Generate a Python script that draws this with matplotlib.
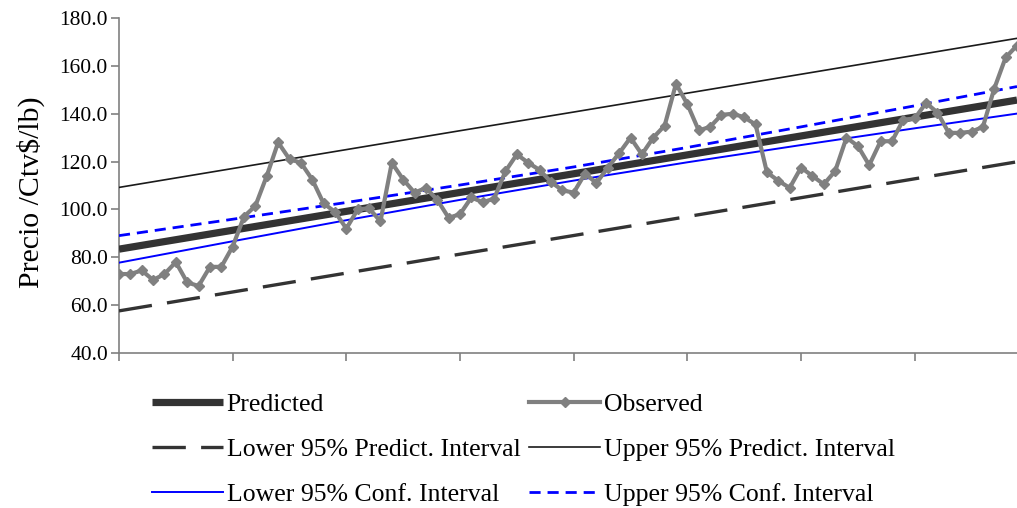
import matplotlib
matplotlib.use("Agg")
import matplotlib.pyplot as plt
import numpy as np

plt.rcParams['font.family'] = ['Liberation Serif', 'DejaVu Serif']
plt.rcParams['lines.scale_dashes'] = False

# Observed monthly price (Ctv$/lb)
observed = [
    73.0, 73.0, 74.5, 70.5, 73.0, 78.0, 69.5, 68.0, 76.0, 76.0,
    84.5, 97.0, 101.5, 114.0, 128.0, 121.0, 119.5, 112.5, 102.5, 99.0,
    92.0, 100.0, 100.5, 95.0, 119.5, 112.5, 107.0, 109.0, 104.0, 96.5,
    98.0, 105.0, 103.0, 104.5, 116.0, 123.0, 119.5, 116.5, 111.5, 108.0,
    107.0, 115.0, 111.0, 117.5, 123.5, 130.0, 123.0, 130.0, 135.0, 152.5,
    144.0, 133.0, 134.5, 139.5, 140.0, 138.5, 135.5, 115.5, 112.0, 109.0,
    117.5, 114.0, 110.5, 116.0, 130.0, 126.5, 118.5, 128.5, 128.5, 137.5,
    138.0, 144.5, 140.5, 132.0, 132.0, 132.5, 134.5, 150.5, 163.5, 168.5,
]

# Fitted trend and 95% bands, read at every tenth period and at the last one
band_periods = [0, 10, 20, 30, 40, 50, 60, 70, 79]
predicted = [83.4, 91.3, 99.2, 107.1, 114.9, 122.8, 130.7, 138.6, 145.7]
lower_pi = [57.6, 65.5, 73.4, 81.3, 89.1, 97.0, 104.9, 112.8, 119.9]
upper_pi = [109.2, 117.1, 125.0, 132.9, 140.7, 148.6, 156.5, 164.4, 171.5]
lower_ci = [77.75, 86.7, 95.5, 104.0, 112.05, 119.7, 126.9, 133.9, 140.05]
upper_ci = [89.05, 95.9, 102.9, 110.2, 117.75, 125.9, 134.5, 143.3, 151.35]

y_ticks = [40, 60, 80, 100, 120, 140, 160, 180]

fig = plt.figure(figsize=(10.17, 5.08), dpi=100)
ax = fig.add_axes([119 / 1017, 1 - 353 / 508, 1 - 119 / 1017, (353 - 18) / 508])

periods = np.arange(len(observed))

h_pred, = ax.plot(band_periods, predicted, color='#333333', lw=5.2,
                  solid_capstyle='butt', label='Predicted', zorder=3)
h_obs, = ax.plot(periods, observed, color='#808080', lw=3.0, marker='D',
                 markersize=5.5, markeredgecolor='#808080', label='Observed', zorder=5)
h_lpi, = ax.plot(band_periods, lower_pi, color='#333333', lw=2.4,
                 linestyle=(0, (24, 11)), label='Lower 95% Predict. Interval', zorder=3)
h_upi, = ax.plot(band_periods, upper_pi, color='#1a1a1a', lw=1.2,
                 label='Upper 95% Predict. Interval', zorder=3)
h_lci, = ax.plot(band_periods, lower_ci, color='#0000ff', lw=1.4,
                 label='Lower 95% Conf. Interval', zorder=4)
h_uci, = ax.plot(band_periods, upper_ci, color='#0000ff', lw=2.0,
                 linestyle=(0, (8, 5)), label='Upper 95% Conf. Interval', zorder=4)

ax.set_xlim(0, len(observed) - 1)
ax.set_ylim(40, 180)
ax.set_yticks(y_ticks)
ax.set_yticklabels([f"{v:.1f}" for v in y_ticks])
ax.set_xticks(np.arange(0, len(observed), 10))
ax.set_xticklabels([])

for side in ('top', 'right'):
    ax.spines[side].set_visible(False)
for side in ('left', 'bottom'):
    ax.spines[side].set_color('#808080')
    ax.spines[side].set_linewidth(1.2)
ax.tick_params(axis='both', color='#808080', width=1.2, length=6, direction='out')
ax.tick_params(axis='y', labelsize=15.5, pad=2)

ax.set_ylabel('Precio /Ctv$/lb)', fontsize=21.5, labelpad=4)
ax.yaxis.set_label_coords(-0.082, 0.48)

handles = [h_pred, h_lpi, h_lci, h_obs, h_upi, h_uci]
fig.legend(handles=handles, labels=[h.get_label() for h in handles],
           loc='upper left', bbox_to_anchor=(152 / 1017, 1 - 393 / 508),
           ncol=2, frameon=False, fontsize=18.5, numpoints=1,
           handlelength=2.75, handletextpad=0.15, columnspacing=0.35,
           labelspacing=0.85, borderpad=0, borderaxespad=0)

fig.savefig('out.png', dpi=100)
